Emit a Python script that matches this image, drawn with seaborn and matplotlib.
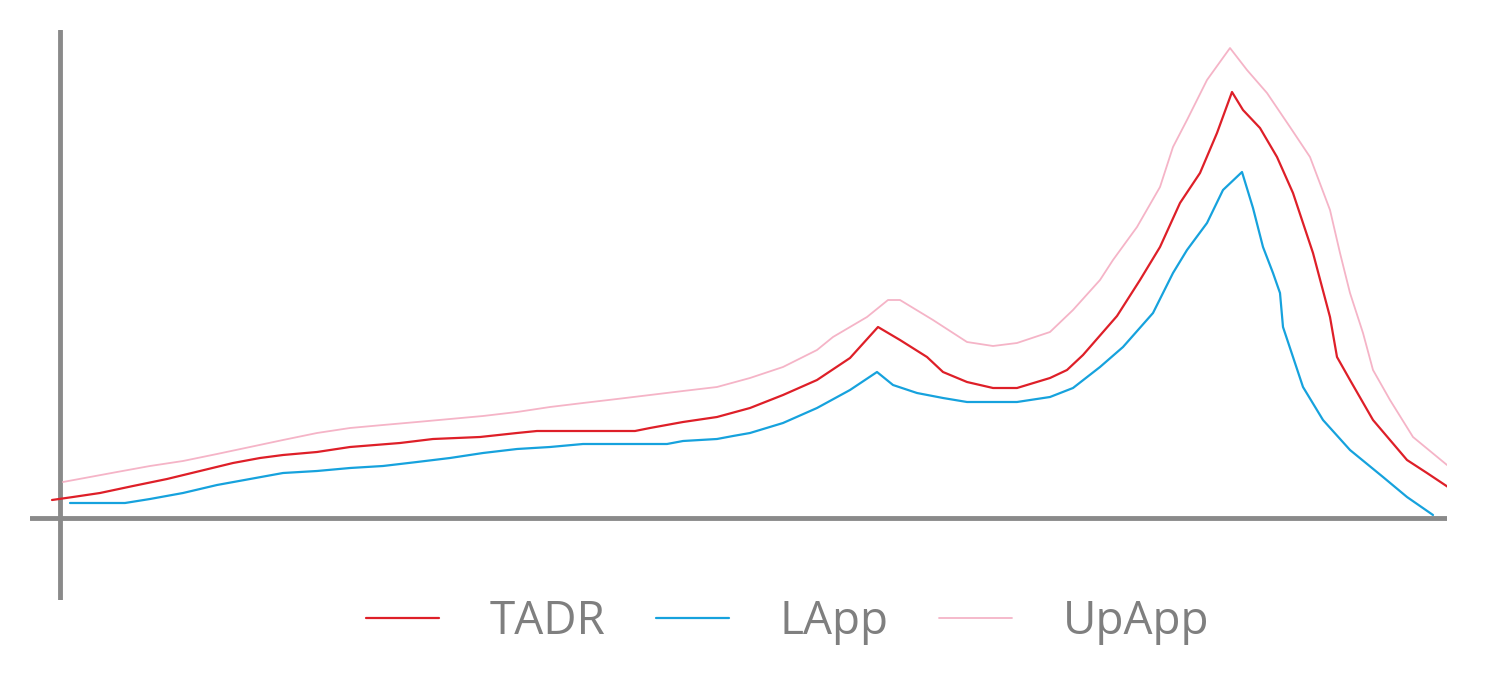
import pandas as pd
import seaborn as sns
import matplotlib
matplotlib.use("Agg")
import matplotlib.pyplot as plt

# values (x from the vertical axis, y above the baseline)
tadr_x = [-8, 13, 40, 73, 107, 140, 173, 200, 223, 257, 290, 340, 373, 420, 457, 477, 575, 590,
          623, 657, 690, 723, 757, 790, 818, 840, 867, 883, 907, 933, 957, 990, 1007, 1023, 1057,
          1080, 1100, 1120, 1140, 1157, 1172, 1183, 1200, 1217, 1233, 1253, 1270, 1277, 1290,
          1313, 1347, 1367, 1388]
tadr_y = [18, 21, 25, 32, 39, 47, 55, 60, 63, 66, 71, 75, 79, 81, 85, 87, 87, 90,
          96, 101, 110, 123, 138, 160, 191, 178, 161, 146, 136, 130, 130, 140, 148, 163, 202,
          238, 271, 315, 345, 385, 426, 408, 390, 361, 325, 265, 201, 161, 138,
          98, 58, 45, 31]

lapp_x = [10, 65, 90, 123, 157, 190, 223, 257, 290, 323, 357, 390, 423, 457, 490, 523, 607, 623,
          657, 673, 690, 723, 757, 790, 817, 833, 857, 883, 907, 957, 990, 1013, 1040, 1063, 1093,
          1113, 1127, 1147, 1163, 1182, 1193, 1203, 1213, 1220, 1223, 1233, 1243, 1263, 1290,
          1323, 1347, 1373]
lapp_y = [15, 15, 19, 25, 33, 39, 45, 47, 50, 52, 56, 60, 65, 69, 71, 74, 74, 77,
          79, 82, 85, 95, 110, 128, 146, 133, 125, 120, 116, 116, 121, 130, 151, 171, 205,
          245, 268, 295, 328, 346, 310, 271, 245, 225, 191, 161, 131, 98, 68,
          41, 21, 3]

upapp_x = [3, 30, 57, 90, 123, 157, 190, 223, 257, 290, 323, 357, 390, 423, 457, 490, 523, 557,
           590, 623, 657, 690, 723, 757, 773, 807, 828, 840, 873, 907, 933, 957, 990, 1013, 1040,
           1053, 1077, 1100, 1113, 1127, 1147, 1170, 1187, 1207, 1230, 1250, 1270, 1280, 1290,
           1303, 1313, 1330, 1353, 1387]
upapp_y = [36, 41, 46, 52, 57, 64, 71, 78, 85, 90, 93, 96, 99, 102, 106, 111, 115, 119,
           123, 127, 131, 140, 151, 168, 181, 201, 218, 218, 198, 176, 172, 175, 186, 208, 238,
           258, 291, 331, 371, 398, 438, 470, 448, 425, 391, 361, 308, 265, 225,
           185, 148, 118, 81, 53]

sns.set_style("white")
plt.rcParams['font.family'] = ['Open Sans', 'DejaVu Sans']

fig = plt.figure(figsize=(14.89, 6.78), dpi=100)
ax = fig.add_axes([30 / 1489, 78 / 678, 1417 / 1489, 570 / 678])

axis_grey = '#8a8a8a'
ax.axhline(0, color=axis_grey, lw=3.5, zorder=1)
ax.axvline(0, color=axis_grey, lw=3.5, zorder=1)

sns.lineplot(x=tadr_x, y=tadr_y, ax=ax, color='#de1f28', lw=1.6, label='TADR', sort=False, zorder=3)
sns.lineplot(x=lapp_x, y=lapp_y, ax=ax, color='#16a2dd', lw=1.6, label='LApp', sort=False, zorder=3)
sns.lineplot(x=upapp_x, y=upapp_y, ax=ax, color='#f5b4c7', lw=1.3, label='UpApp', sort=False, zorder=2)

ax.set_xlim(-30, 1387)
ax.set_ylim(-82, 488)
ax.set_xticks([])
ax.set_yticks([])
for s in ax.spines.values():
    s.set_visible(False)

ax.get_legend().remove()
handles, labels = ax.get_legend_handles_labels()
leg = fig.legend(handles, labels, loc='center', bbox_to_anchor=(0.529, 0.083), ncol=3,
                 frameon=False, fontsize=33, handlelength=1.6, handletextpad=1.1,
                 columnspacing=1.1)
for t in leg.get_texts():
    t.set_color('#7f7f7f')

fig.savefig('out.png', dpi=100)
